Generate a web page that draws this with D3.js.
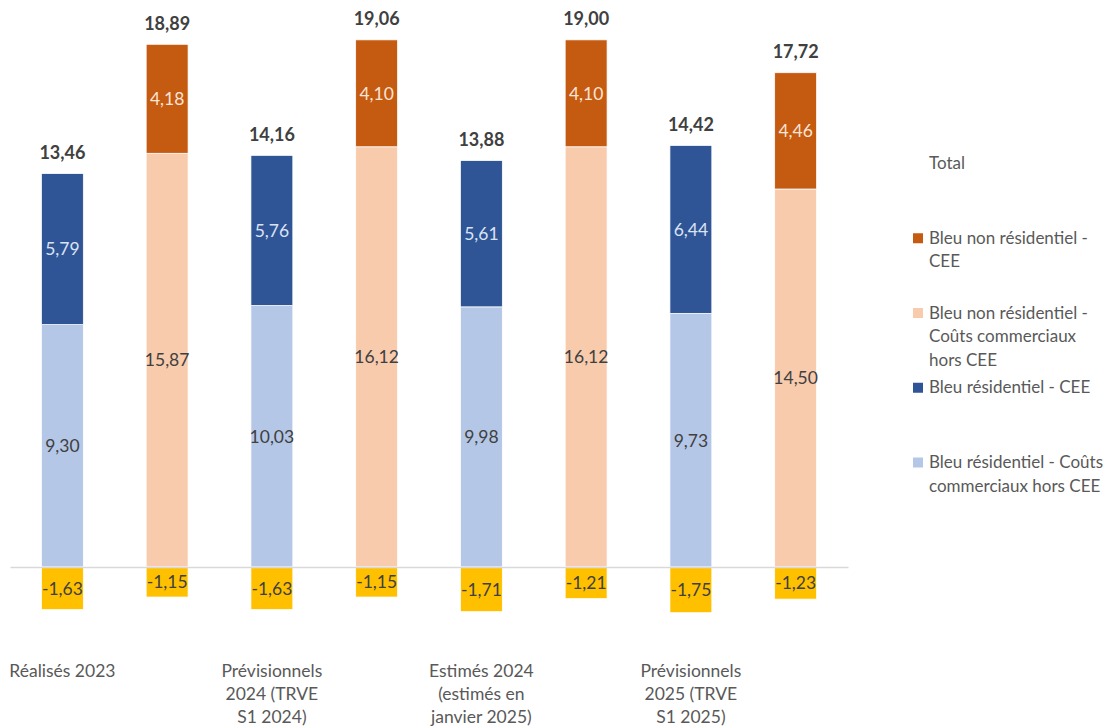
<!DOCTYPE html>
<html>
<head>
<meta charset="utf-8">
<script src="https://cdn.jsdelivr.net/npm/d3@7"></script>
<style>
  body { margin: 0; background: #fff; }
  svg { display: block; font-family: Lato, "Open Sans", "Liberation Sans", sans-serif; }
</style>
</head>
<body>
<svg id="chart" width="1117" height="728"></svg>
<script>
// Category labels (one per pair of bars), already split into lines
const categories = [
  ["Réalisés 2023"],
  ["Prévisionnels", "2024 (TRVE", "S1 2024)"],
  ["Estimés 2024", "(estimés en", "janvier 2025)"],
  ["Prévisionnels", "2025 (TRVE", "S1 2025)"]
];

// Bleu résidentiel (€/MWh)
const resCouts = [9.30, 10.03, 9.98, 9.73];
const resCEE = [5.79, 5.76, 5.61, 6.44];
const resNeg = [-1.63, -1.63, -1.71, -1.75];
const resTotal = [13.46, 14.16, 13.88, 14.42];

// Bleu non résidentiel (€/MWh)
const nonResCouts = [15.87, 16.12, 16.12, 14.50];
const nonResCEE = [4.18, 4.10, 4.10, 4.46];
const nonResNeg = [-1.15, -1.15, -1.21, -1.23];
const nonResTotal = [18.89, 19.06, 19.00, 17.72];

// Legend entries, top to bottom
const legendEntries = [
  { id: "total", lines: ["Total"] },
  { id: "nonres-cee", lines: ["Bleu non résidentiel -", "CEE"] },
  { id: "nonres-couts", lines: ["Bleu non résidentiel -", "Coûts commerciaux", "hors CEE"] },
  { id: "res-cee", lines: ["Bleu résidentiel - CEE"] },
  { id: "res-couts", lines: ["Bleu résidentiel - Coûts", "commerciaux hors CEE"] }
];

const fill = {
  "res-couts": "#B4C7E7",
  "res-cee": "#2F5597",
  "nonres-couts": "#F8CBAD",
  "nonres-cee": "#C55A11",
  "neg": "#FFC000"
};
const labelColor = {
  "res-couts": "#404040",
  "res-cee": "#DAE3F3",
  "nonres-couts": "#404040",
  "nonres-cee": "#FBE5D6",
  "neg": "#404040"
};

// One row per bar: résidentiel then non résidentiel for each category
const rows = [];
categories.forEach((c, i) => {
  rows.push({ slot: `r${i}`, cat: i, kind: "res", couts: resCouts[i], cee: resCEE[i], neg: resNeg[i], total: resTotal[i] });
  rows.push({ slot: `n${i}`, cat: i, kind: "nonres", couts: nonResCouts[i], cee: nonResCEE[i], neg: nonResNeg[i], total: nonResTotal[i] });
});

const svg = d3.select("#chart");

const x = d3.scaleBand()
  .domain(rows.map(d => d.slot))
  .range([10, 848])
  .paddingInner(0.6)
  .paddingOuter(0.3);

const y = d3.scaleLinear()
  .domain([-2, 20])
  .range([619.2, 45.6]);

const stack = d3.stack()
  .keys(["couts", "cee", "neg"])
  .offset(d3.stackOffsetDiverging);
const layers = stack(rows);

const segKey = (layerKey, row) => layerKey === "neg" ? "neg" : `${row.kind}-${layerKey}`;
const frLocale = d3.formatLocale({ decimal: ",", thousands: " ", grouping: [3], currency: ["", " €"], minus: "-" });
const fmt = frLocale.format(".2f");

const segments = [];
layers.forEach(layer => {
  layer.forEach(s => {
    const row = s.data;
    segments.push({ row, key: segKey(layer.key, row), y0: s[0], y1: s[1], value: row[layer.key] });
  });
});

const gBars = svg.append("g");
gBars.selectAll("rect")
  .data(segments)
  .join("rect")
  .attr("x", d => x(d.row.slot))
  .attr("width", x.bandwidth())
  .attr("y", d => y(Math.max(d.y0, d.y1)))
  .attr("height", d => Math.abs(y(d.y0) - y(d.y1)))
  .attr("fill", d => fill[d.key])
  .attr("stroke", "#fff")
  .attr("stroke-width", 0.75);

// Horizontal category axis at zero
const axis = d3.axisBottom(x).tickSize(0).tickFormat("");
const gAxis = svg.append("g")
  .attr("transform", `translate(0,${y(0)})`)
  .call(axis);
gAxis.select(".domain").attr("stroke", "#D9D9D9").attr("stroke-width", 1.5);

// Segment value labels
svg.append("g").selectAll("text")
  .data(segments)
  .join("text")
  .attr("x", d => x(d.row.slot) + x.bandwidth() / 2)
  .attr("y", d => (y(d.y0) + y(d.y1)) / 2)
  .attr("dy", "0.36em")
  .attr("text-anchor", "middle")
  .attr("font-size", 17.5)
  .attr("fill", d => labelColor[d.key])
  .text(d => fmt(d.value));

// Totals above each bar
svg.append("g").selectAll("text")
  .data(rows)
  .join("text")
  .attr("x", d => x(d.slot) + x.bandwidth() / 2)
  .attr("y", d => y(d.couts + d.cee) - 14.5)
  .attr("text-anchor", "middle")
  .attr("font-size", 18)
  .attr("font-weight", "bold")
  .attr("fill", "#404040")
  .text(d => fmt(d.total));

// Category labels, centred under the résidentiel bar of each pair
const gCat = svg.append("g");
categories.forEach((lines, i) => {
  const cx = x(`r${i}`) + x.bandwidth() / 2;
  const t = gCat.append("text")
    .attr("text-anchor", "middle")
    .attr("font-size", 17.5)
    .attr("fill", "#595959");
  lines.forEach((ln, j) => {
    t.append("tspan").attr("x", cx).attr("y", 677 + j * 23).text(ln);
  });
});

// Legend
const gLeg = svg.append("g");
legendEntries.forEach((e, i) => {
  const base = 169 + i * 74.75;
  if (fill[e.id]) {
    gLeg.append("rect")
      .attr("x", 913).attr("y", base - 10.5)
      .attr("width", 10).attr("height", 10)
      .attr("fill", fill[e.id]);
  }
  const t = gLeg.append("text")
    .attr("font-size", 17)
    .attr("fill", "#595959");
  e.lines.forEach((ln, j) => {
    t.append("tspan").attr("x", 929).attr("y", base + j * 23.5).text(ln);
  });
});
</script>
</body>
</html>
